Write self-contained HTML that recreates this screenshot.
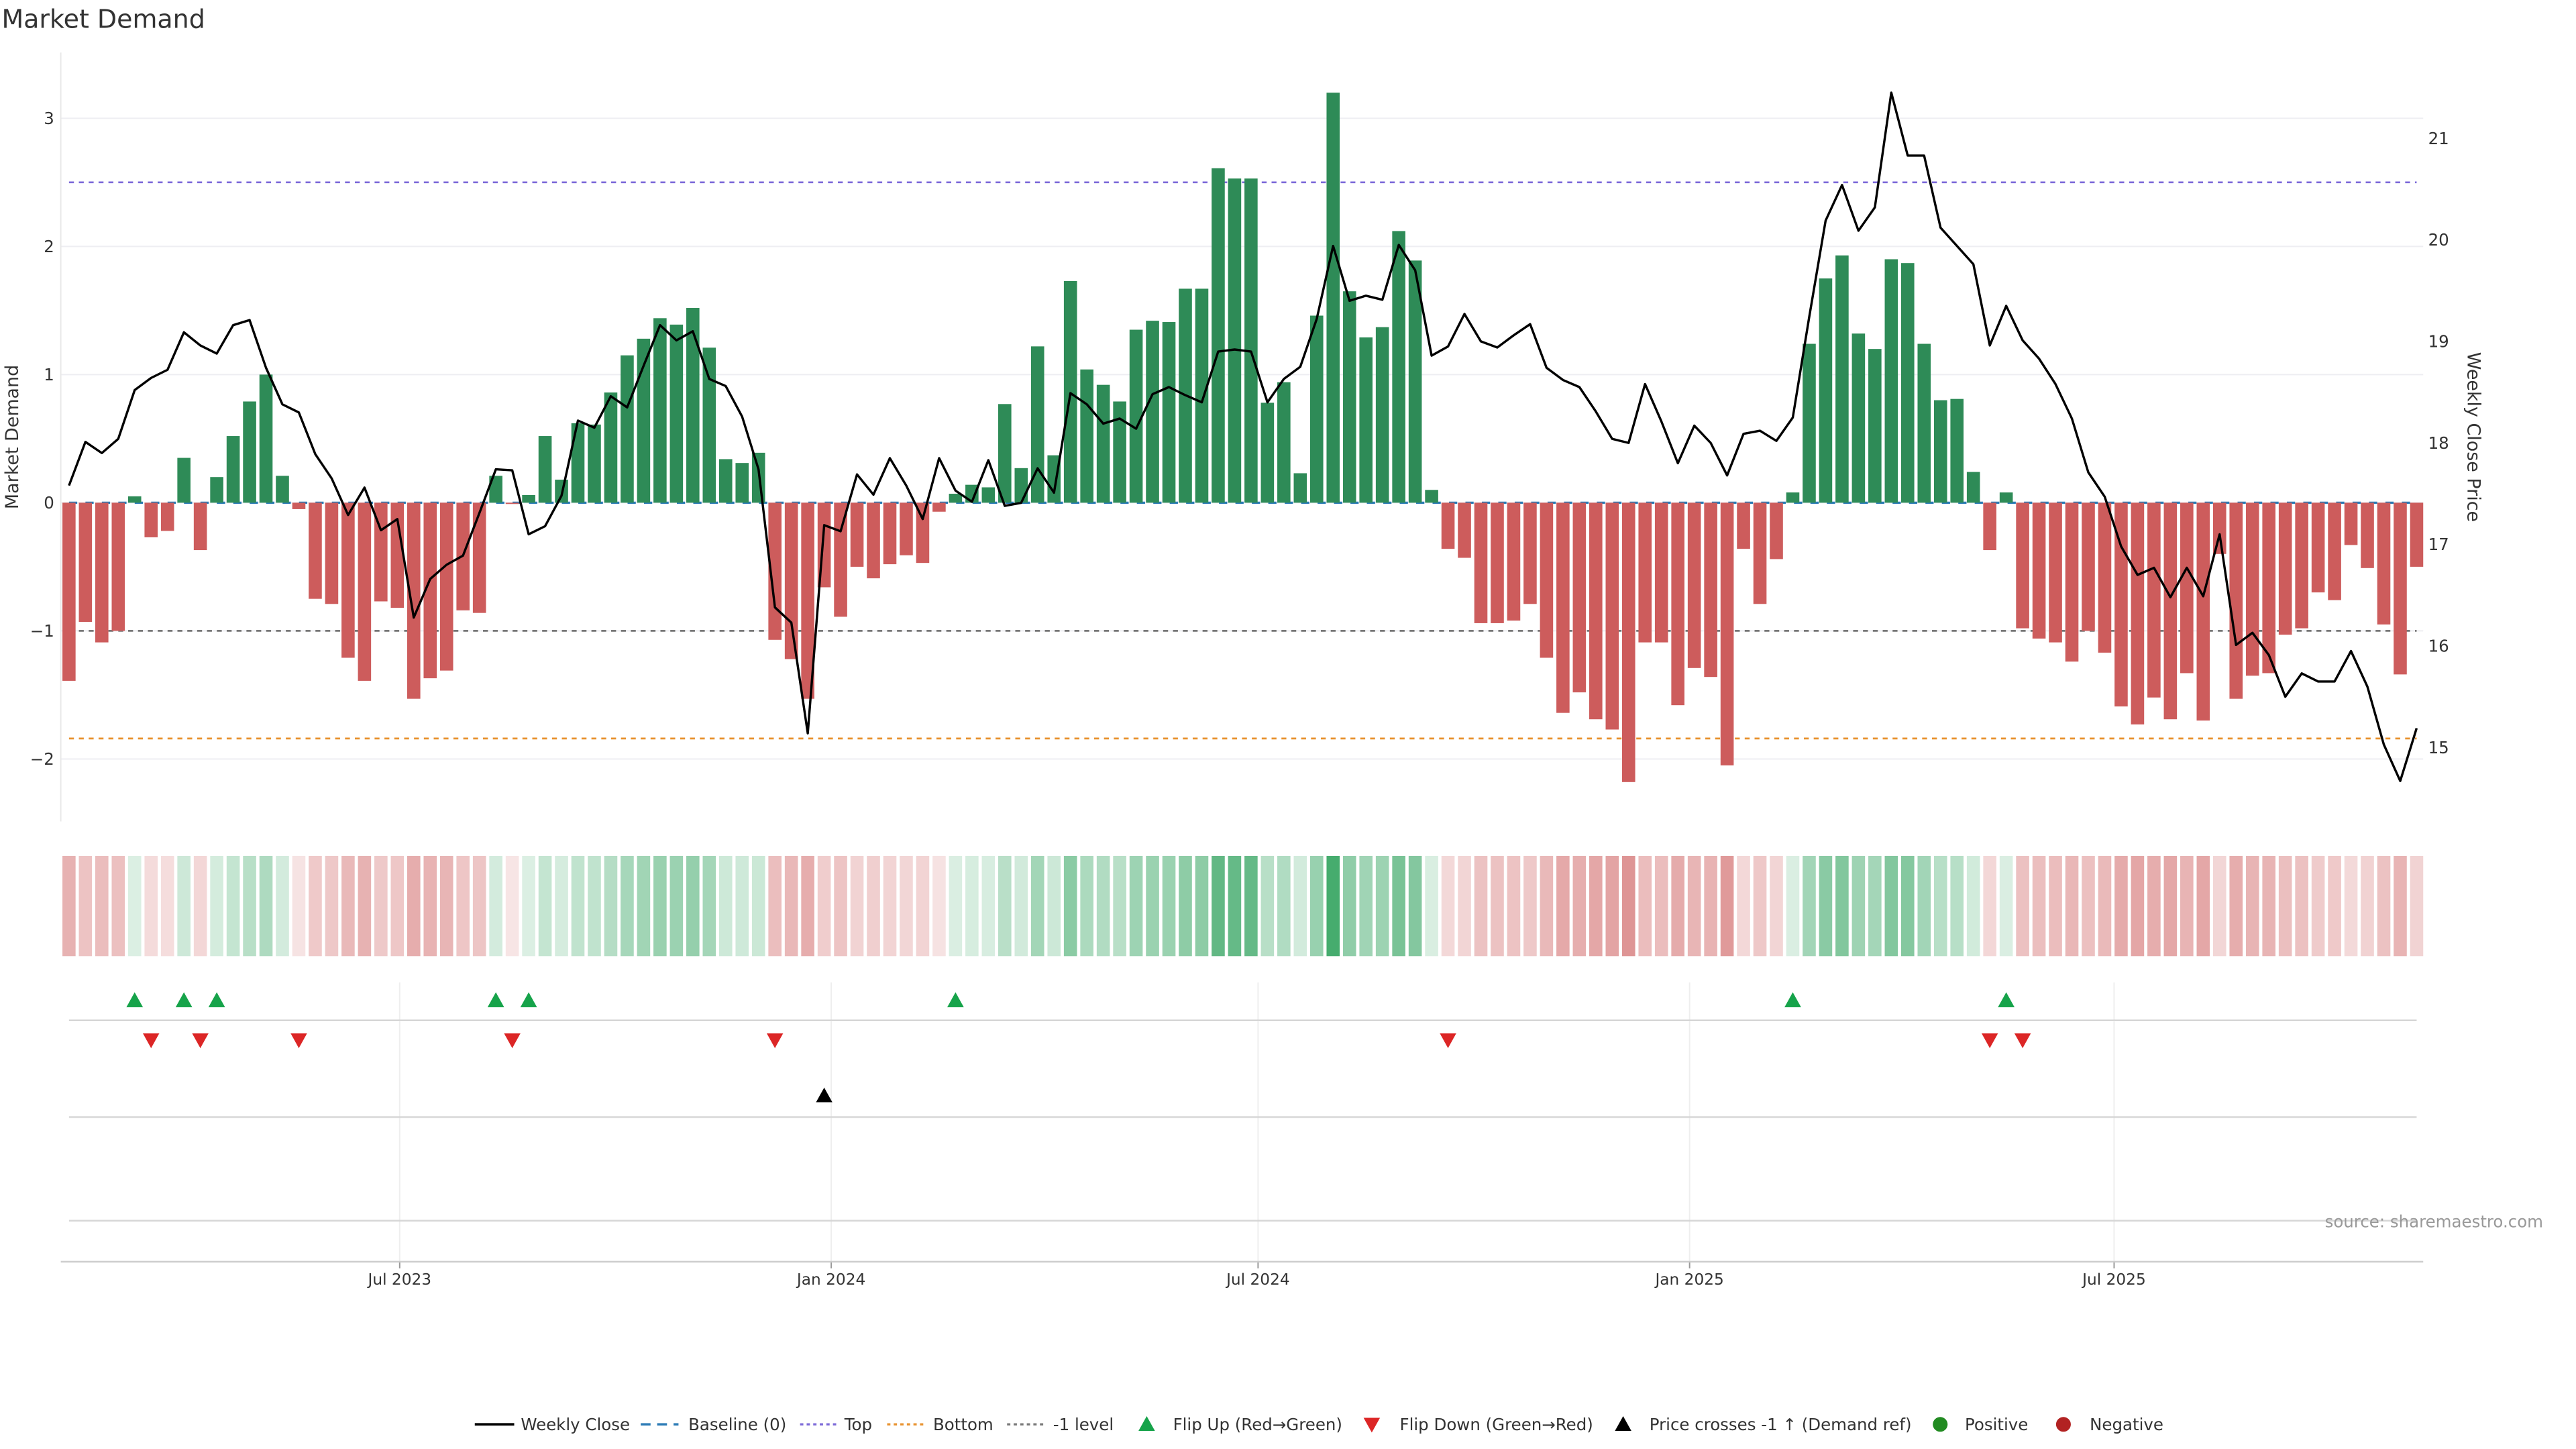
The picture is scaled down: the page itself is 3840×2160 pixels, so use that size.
<!DOCTYPE html>
<html><head><meta charset="utf-8"><style>
html,body{margin:0;padding:0;background:#fff;}
svg{display:block;font-family:"DejaVu Sans","Liberation Sans",sans-serif;}
</style></head><body>
<svg id="chart" width="3840" height="2160" viewBox="0 0 1568 882" preserveAspectRatio="none" xmlns="http://www.w3.org/2000/svg">
<text x="1" y="17" font-size="15.5" fill="#333">Market Demand</text>
<g id="grid"></g><g id="refs"></g><g id="bars"></g><g id="line"></g><g id="strip"></g><g id="events"></g><g id="axes"></g>
<text x="1548" y="747" font-size="10" fill="#999" text-anchor="end">source: sharemaestro.com</text>
<g id="legend"></g>
</svg>
<script>
const demand=[-1.39,-0.93,-1.09,-1.0,0.05,-0.27,-0.22,0.35,-0.37,0.2,0.52,0.79,1.0,0.21,-0.05,-0.75,-0.79,-1.21,-1.39,-0.77,-0.82,-1.53,-1.37,-1.31,-0.84,-0.86,0.21,-0.01,0.06,0.52,0.18,0.62,0.61,0.86,1.15,1.28,1.44,1.39,1.52,1.21,0.34,0.31,0.39,-1.07,-1.22,-1.53,-0.66,-0.89,-0.5,-0.59,-0.48,-0.41,-0.47,-0.07,0.07,0.14,0.12,0.77,0.27,1.22,0.37,1.73,1.04,0.92,0.79,1.35,1.42,1.41,1.67,1.67,2.61,2.53,2.53,0.78,0.94,0.23,1.46,3.2,1.65,1.29,1.37,2.12,1.89,0.1,-0.36,-0.43,-0.94,-0.94,-0.92,-0.79,-1.21,-1.64,-1.48,-1.69,-1.77,-2.18,-1.09,-1.09,-1.58,-1.29,-1.36,-2.05,-0.36,-0.79,-0.44,0.08,1.24,1.75,1.93,1.32,1.2,1.9,1.87,1.24,0.8,0.81,0.24,-0.37,0.08,-0.98,-1.06,-1.09,-1.24,-1.0,-1.17,-1.59,-1.73,-1.52,-1.69,-1.33,-1.7,-0.4,-1.53,-1.35,-1.33,-1.03,-0.98,-0.7,-0.76,-0.33,-0.51,-0.95,-1.34,-0.5];
const price=[17.58,18.01,17.90,18.04,18.52,18.64,18.72,19.09,18.96,18.88,19.16,19.21,18.74,18.38,18.30,17.89,17.65,17.29,17.56,17.14,17.25,16.28,16.66,16.80,16.89,17.31,17.74,17.73,17.10,17.18,17.48,18.22,18.15,18.46,18.35,18.76,19.16,19.01,19.10,18.63,18.56,18.26,17.74,16.38,16.23,15.14,17.19,17.13,17.69,17.49,17.85,17.58,17.25,17.85,17.53,17.42,17.83,17.38,17.41,17.75,17.51,18.49,18.38,18.19,18.24,18.14,18.48,18.55,18.47,18.40,18.90,18.92,18.90,18.40,18.63,18.75,19.22,19.94,19.40,19.45,19.41,19.95,19.70,18.86,18.95,19.27,19.00,18.94,19.06,19.17,18.74,18.62,18.55,18.31,18.04,18.00,18.58,18.21,17.80,18.17,18.00,17.68,18.09,18.12,18.02,18.25,19.24,20.19,20.54,20.09,20.32,21.45,20.83,20.83,20.12,19.94,19.76,18.96,19.35,19.01,18.83,18.58,18.24,17.71,17.47,16.98,16.70,16.77,16.48,16.77,16.49,17.10,16.01,16.13,15.91,15.50,15.73,15.65,15.65,15.95,15.60,15.03,14.67,15.19];
const flipUp=[4,7,9,26,28,54,105,118];
const flipDown=[5,8,14,27,43,84,117,119];
const priceCross=[46];
const leftTicks=[3,2,1,0,-1,-2];
const rightTicks=[21,20,19,18,17,16,15];
const xTickLabels=["Jul 2023","Jan 2024","Jul 2024","Jan 2025","Jul 2025"];
const xTickDates=["2023-07-01","2024-01-01","2024-07-01","2025-01-01","2025-07-01"];
const topLevel=2.5, bottomLevel=-1.84, negLevel=-1;
const startDate="2023-02-10";

const NS="http://www.w3.org/2000/svg";
function mk(tag,attrs,parent){const e=document.createElementNS(NS,tag);for(const k in attrs)e.setAttribute(k,attrs[k]);parent.appendChild(e);return e;}
const X0=42, STEP=(1471-42)/143;
const xI=i=>X0+i*STEP;
const xD=d=>X0+((new Date(d)-new Date(startDate))/86400000/7)*STEP;
const yL=v=>306-78*v;
const yR=p=>455-(p-15)*61.8;
const G=id=>document.getElementById(id);

leftTicks.forEach(t=>{
  const l=mk('line',{x1:37,x2:1475,y1:yL(t),y2:yL(t),stroke:'#eeeef2','stroke-width':0.8},G('grid'));
  
  
  const tx=mk('text',{x:33,y:yL(t)+3.5,'font-size':10,fill:'#333','text-anchor':'end'},G('axes'));
  tx.textContent=t<0?'\u2212'+Math.abs(t):String(t);
  
  
});
rightTicks.forEach(t=>{
  const tx=mk('text',{x:1478,y:yR(t)+3.5,'font-size':10,fill:'#333'},G('axes'));
  tx.textContent=String(t);
  
  
});
const la=mk('line',{x1:37,x2:37,y1:32,y2:500,stroke:'#e8e8e8','stroke-width':0.8},G('axes'));


const yt=mk('text',{x:0,y:0,'font-size':11,fill:'#333','text-anchor':'middle',transform:'translate(11,266) rotate(-90)'},G('axes'));
yt.textContent='Market Demand';


const yt2=mk('text',{x:0,y:0,'font-size':11,fill:'#333','text-anchor':'middle',transform:'translate(1502,266) rotate(90)'},G('axes'));
yt2.textContent='Weekly Close Price';



[[topLevel,'#7b68d8','top-line'],[negLevel,'#777','minus-one-line'],[bottomLevel,'#e8912d','bottom-line']].forEach(r=>{
  const l=mk('line',{x1:42,x2:1471,y1:yL(r[0]),y2:yL(r[0]),stroke:r[1],'stroke-width':1.1,'stroke-dasharray':'3,3'},G('refs'));
  
  
});
const bl=mk('line',{x1:42,x2:1471,y1:yL(0),y2:yL(0),stroke:'#2a7ab5','stroke-width':1.3,'stroke-dasharray':'5,5'},G('refs'));



demand.forEach((v,i)=>{
  const pos=v>0;
  const y0=yL(0), y1=yL(v);
  const b=mk('rect',{x:xI(i)-4,y:Math.min(y0,y1),width:8,height:Math.max(Math.abs(y1-y0),0.01),fill:pos?'#2e8b57':'#cd5c5c'},G('bars'));
  
  
  const a=0.16+0.72*Math.min(Math.abs(v)/3.2,1);
  const s=mk('rect',{x:xI(i)-4,y:521,width:8,height:61,fill:pos?'#2ca05a':'#cd5c5c','fill-opacity':a.toFixed(3)},G('strip'));
  
  
});
const pl=mk('polyline',{points:price.map((p,i)=>xI(i).toFixed(2)+','+yR(p).toFixed(2)).join(' '),fill:'none',stroke:'#000','stroke-width':1.4,'stroke-linejoin':'round'},G('line'));



xTickDates.forEach((d,k)=>{
  const x=xD(d);
  const g=mk('line',{x1:x,x2:x,y1:598,y2:768,stroke:'#eeeeee','stroke-width':0.8},G('events'));
  
  
  const t=mk('line',{x1:x,x2:x,y1:768,y2:772,stroke:'#999','stroke-width':0.8},G('axes'));
  
  
  const tx=mk('text',{x:x,y:782,'font-size':9.5,fill:'#333','text-anchor':'middle'},G('axes'));
  tx.textContent=xTickLabels[k];
  
  
});
[621,680,743].forEach(y=>{
  const l=mk('line',{x1:42,x2:1471,y1:y,y2:y,stroke:'#d6d6d6','stroke-width':1},G('events'));
  
  
});
const xa=mk('line',{x1:37,x2:1475,y1:768,y2:768,stroke:'#ccc','stroke-width':1},G('axes'));



function tri(x,y,up,color){
  const p=up?`${x-5},${y+4} ${x+5},${y+4} ${x},${y-5}`:`${x-5},${y-4} ${x+5},${y-4} ${x},${y+5}`;
  return mk('polygon',{points:p,fill:color},G('events'));
}
flipUp.forEach(i=>{const t=tri(xI(i),609,true,'#16a34a');
  
  });
flipDown.forEach(i=>{const t=tri(xI(i),633,false,'#dc2626');
  
  });
priceCross.forEach(i=>{const t=tri(xI(i),667,true,'#000');
  
  });

const L=G('legend'), ly=867;
function ltext(x,s){const t=mk('text',{x:x,y:ly+3.5,'font-size':10,fill:'#333'},L);t.textContent=s;}
let e;
e=mk('line',{x1:289,x2:313,y1:ly,y2:ly,stroke:'#000','stroke-width':1.5},L);ltext(317,'Weekly Close');
e=mk('line',{x1:390,x2:413,y1:ly,y2:ly,stroke:'#2a7ab5','stroke-width':1.4,'stroke-dasharray':'6,4'},L);ltext(419,'Baseline (0)');
e=mk('line',{x1:487,x2:509,y1:ly,y2:ly,stroke:'#7b68d8','stroke-width':1.3,'stroke-dasharray':'2,2'},L);ltext(514,'Top');
e=mk('line',{x1:540,x2:563,y1:ly,y2:ly,stroke:'#e8912d','stroke-width':1.3,'stroke-dasharray':'2,2'},L);ltext(568,'Bottom');
e=mk('line',{x1:613,x2:636,y1:ly,y2:ly,stroke:'#777','stroke-width':1.3,'stroke-dasharray':'2,2'},L);ltext(641,'-1 level');
e=mk('polygon',{points:`693,${ly+4} 703,${ly+4} 698,${ly-5}`,fill:'#16a34a'},L);ltext(714,'Flip Up (Red\u2192Green)');
e=mk('polygon',{points:`830,${ly-4} 840,${ly-4} 835,${ly+5}`,fill:'#dc2626'},L);ltext(852,'Flip Down (Green\u2192Red)');
e=mk('polygon',{points:`983,${ly+4} 993,${ly+4} 988,${ly-5}`,fill:'#000'},L);ltext(1004,'Price crosses -1 \u2191 (Demand ref)');
e=mk('circle',{cx:1181,cy:ly,r:4.5,fill:'#228b22'},L);ltext(1196,'Positive');
e=mk('circle',{cx:1256,cy:ly,r:4.5,fill:'#b22222'},L);ltext(1272,'Negative');
</script>
</body></html>
